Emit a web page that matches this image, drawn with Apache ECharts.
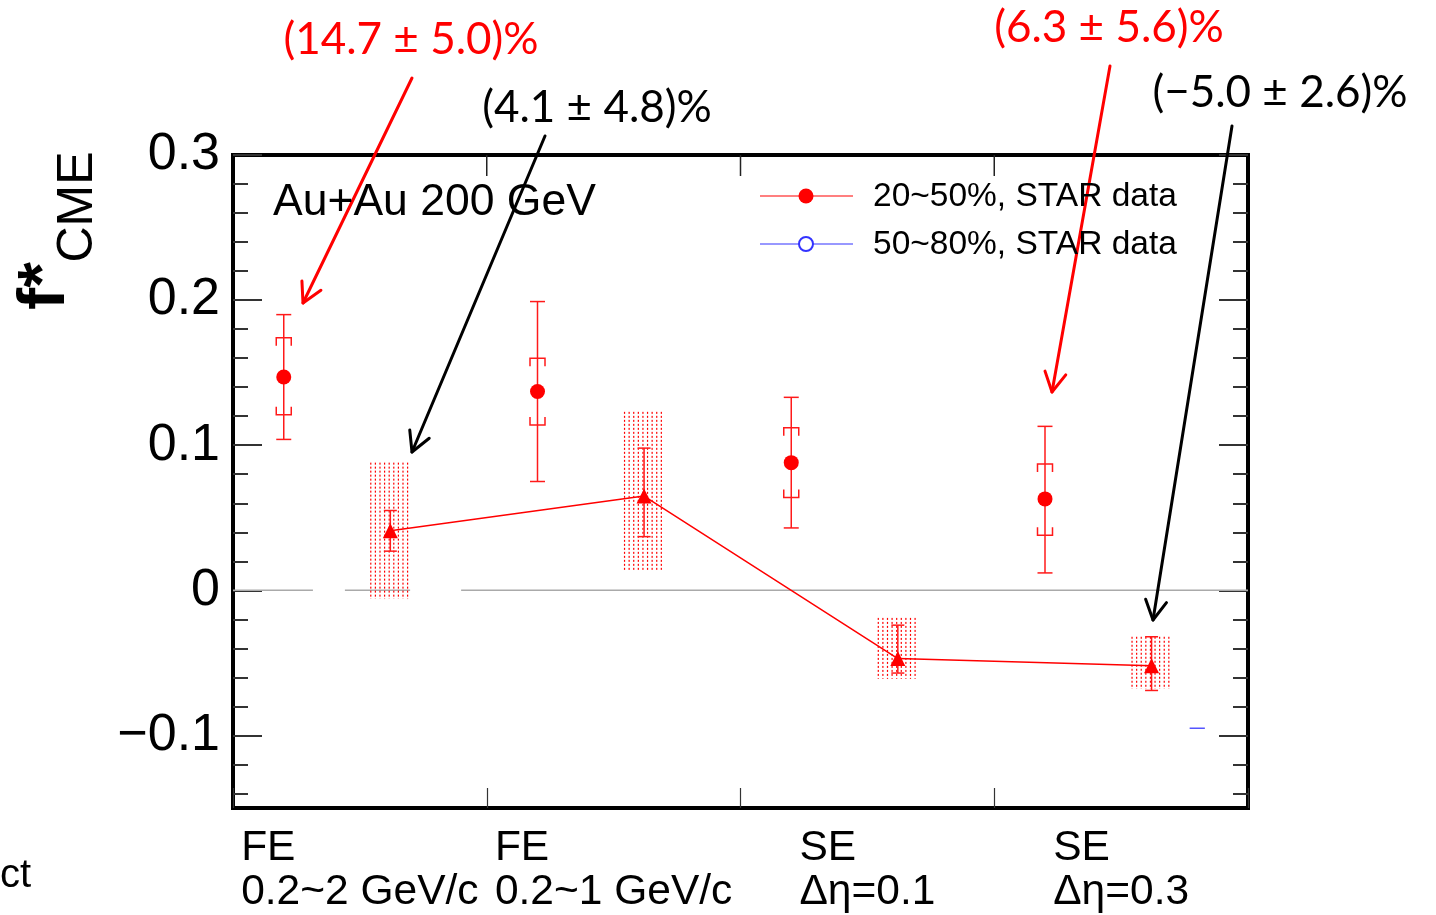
<!DOCTYPE html>
<html><head><meta charset="utf-8">
<script src="https://cdn.jsdelivr.net/npm/echarts@6/dist/echarts.min.js"></script>
<style>html,body{margin:0;padding:0;background:#fff}#c{width:1436px;height:915px}</style>
</head><body><div id="c"></div>
<script>
// ---------- data ----------
const categories = ['FE\n0.2~2 GeV/c', 'FE\n0.2~1 GeV/c', 'SE\nΔη=0.1', 'SE\nΔη=0.3'];
const yTickValues = [-0.1, 0, 0.1, 0.2, 0.3];
const central2050 = [0.147, 0.137, 0.088, 0.063];
const statLow2050 = [0.104, 0.075, 0.043, 0.012];
const statHigh2050 = [0.190, 0.199, 0.133, 0.113];
const sysLow2050 = [0.121, 0.114, 0.064, 0.038];
const sysHigh2050 = [0.174, 0.160, 0.112, 0.087];
const centralTri = [0.041, 0.065, -0.047, -0.052];
const statLowTri = [0.027, 0.037, -0.057, -0.069];
const statHighTri = [0.055, 0.098, -0.024, -0.032];
const boxLowTri = [-0.006, 0.013, -0.061, -0.068];
const boxHighTri = [0.088, 0.123, -0.019, -0.032];
const blueFragmentX = [3.77, 3.83];
const blueFragmentY = [-0.095, -0.095];
const legendNames = ['20~50%, STAR data', '50~80%, STAR data'];
const annotationTexts = ['(14.7 ± 5.0)%', '(4.1 ± 4.8)%', '(6.3 ± 5.6)%', '(−5.0 ± 2.6)%'];
const systemLabel = 'Au+Au 200 GeV';

// ---------- layout ----------
const FONT = '"Liberation Sans", Arial, sans-serif';
const ANN_FONT = 'Lato, "Open Sans", sans-serif';
const RED = '#ff0000';
const CIRCLE_OFF = 0.2, TRI_OFF = 0.62, BOX_HALF = 0.077;
const W = 1436, H = 915;
const GRID = {left: 233, right: 188, top: 155, bottom: 107};
const Y_MIN = -0.15, Y_MAX = 0.3, X_MIN = 0, X_MAX = 4;

const minorVals = [];
for (let k = -14; k <= 28; k += 2) { if (k % 10 !== 0) minorVals.push(k / 100); }
const boundaryTicks = [1, 2, 3];

const chart = echarts.init(document.getElementById('c'), null, {renderer: 'canvas'});

function fmtY(v) {
  if (Math.abs(v) < 1e-9) return '0';
  return v < 0 ? '\u2212' + (-v).toFixed(1) : v.toFixed(1);
}

const circleErrData = central2050.map((v, i) => [i + CIRCLE_OFF, statLow2050[i], statHigh2050[i], sysLow2050[i], sysHigh2050[i]]);
const triErrData = centralTri.map((v, i) => [i + TRI_OFF, statLowTri[i], statHighTri[i]]);
const boxData = centralTri.map((v, i) => [i + TRI_OFF, boxLowTri[i], boxHighTri[i]]);
const zeroSegs = [[0, 0.315], [0.441, 0.698], [0.899, 4]];

function yAxisTicks(pos, vals, len, showLabel) {
  return {
    type: 'value', min: Y_MIN, max: Y_MAX, position: pos,
    axisLine: {show: false, onZero: false}, splitLine: {show: false},
    axisTick: {show: true, inside: true, length: len, customValues: vals, lineStyle: {color: '#333', width: 2}},
    axisLabel: {show: showLabel, customValues: vals, formatter: fmtY, fontSize: 52, fontFamily: FONT, color: '#000', margin: 13}
  };
}

const sty = {stroke: '#ff1a1a', lineWidth: 1.5, fill: null};

const option = {
  animation: false,
  backgroundColor: '#fff',
  grid: Object.assign({show: true, borderColor: '#000', borderWidth: 4, backgroundColor: 'transparent'}, GRID),
  xAxis: [
    {
      type: 'value', min: X_MIN, max: X_MAX, interval: 1, position: 'bottom',
      axisLine: {show: false, onZero: false}, splitLine: {show: false},
      axisTick: {show: true, inside: true, length: 20, lineStyle: {color: '#333', width: 1.2}},
      axisLabel: {show: false}
    },
    {
      type: 'category', data: categories, position: 'bottom',
      axisLine: {show: false, onZero: false}, axisTick: {show: false}, splitLine: {show: false},
      axisLabel: {
        interval: 0, margin: 18,
        formatter: v => v.split('\n').map(s => '{a|' + s + '}').join('\n'),
        rich: {a: {fontSize: 42.5, lineHeight: 44, fontFamily: FONT, color: '#000', align: 'left'}}
      }
    }
  ],
  yAxis: [
    yAxisTicks('left', yTickValues, 29, true),
    yAxisTicks('left', minorVals, 15, false),
    yAxisTicks('right', yTickValues, 29, false),
    yAxisTicks('right', minorVals, 15, false)
  ],
  series: [
    { // zero reference line
      type: 'custom', xAxisIndex: 0, yAxisIndex: 0, silent: true, z: 1,
      data: zeroSegs,
      renderItem: (p, api) => {
        const a = api.coord([api.value(0), 0]), b = api.coord([api.value(1), 0]);
        return {type: 'line', shape: {x1: a[0], y1: a[1], x2: b[0], y2: b[1]}, style: {stroke: '#aaaaaa', lineWidth: 1.5}};
      }
    },
    { // hatched systematic boxes
      type: 'custom', xAxisIndex: 0, yAxisIndex: 0, silent: true, z: 2,
      data: boxData,
      renderItem: (p, api) => {
        const x = api.value(0);
        const tl = api.coord([x - BOX_HALF, api.value(2)]);
        const br = api.coord([x + BOX_HALF, api.value(1)]);
        const children = [];
        for (let xx = tl[0]; xx <= br[0] + 0.1; xx += 4.6) {
          children.push({type: 'line', shape: {x1: xx, y1: tl[1], x2: xx, y2: br[1]},
            style: {stroke: RED, lineWidth: 1.2, lineDash: [2, 2]}});
        }
        return {type: 'group', children};
      }
    },
    { // stat errors on triangles
      type: 'custom', xAxisIndex: 0, yAxisIndex: 0, silent: true, z: 3,
      data: triErrData,
      renderItem: (p, api) => {
        const x = api.value(0);
        const lo = api.coord([x, api.value(1)]), hi = api.coord([x, api.value(2)]);
        const c = 6.5, cx = lo[0];
        return {type: 'group', children: [
          {type: 'line', shape: {x1: cx, y1: lo[1], x2: cx, y2: hi[1]}, style: sty},
          {type: 'line', shape: {x1: cx - c, y1: lo[1], x2: cx + c, y2: lo[1]}, style: sty},
          {type: 'line', shape: {x1: cx - c, y1: hi[1], x2: cx + c, y2: hi[1]}, style: sty}
        ]};
      }
    },
    { // stat + sys errors on circles
      type: 'custom', xAxisIndex: 0, yAxisIndex: 0, silent: true, z: 3,
      data: circleErrData,
      renderItem: (p, api) => {
        const x = api.value(0);
        const lo = api.coord([x, api.value(1)]), hi = api.coord([x, api.value(2)]);
        const sLo = api.coord([x, api.value(3)]), sHi = api.coord([x, api.value(4)]);
        const c = 7.5, cx = lo[0], t = 8;
        return {type: 'group', children: [
          {type: 'line', shape: {x1: cx, y1: lo[1], x2: cx, y2: hi[1]}, style: sty},
          {type: 'line', shape: {x1: cx - c, y1: lo[1], x2: cx + c, y2: lo[1]}, style: sty},
          {type: 'line', shape: {x1: cx - c, y1: hi[1], x2: cx + c, y2: hi[1]}, style: sty},
          {type: 'polyline', shape: {points: [[cx - c, sHi[1] + t], [cx - c, sHi[1]], [cx + c, sHi[1]], [cx + c, sHi[1] + t]]}, style: sty},
          {type: 'polyline', shape: {points: [[cx - c, sLo[1] - t], [cx - c, sLo[1]], [cx + c, sLo[1]], [cx + c, sLo[1] - t]]}, style: sty}
        ]};
      }
    },
    {
      type: 'line', name: 'tri', xAxisIndex: 0, yAxisIndex: 0, z: 4,
      data: centralTri.map((v, i) => [i + TRI_OFF, v]),
      symbol: 'triangle', symbolSize: 15, showSymbol: true,
      itemStyle: {color: RED, opacity: 1}, lineStyle: {color: RED, width: 1.5}
    },
    {
      type: 'scatter', name: legendNames[0], xAxisIndex: 0, yAxisIndex: 0, z: 5,
      data: central2050.map((v, i) => [i + CIRCLE_OFF, v]),
      symbol: 'circle', symbolSize: 15, itemStyle: {color: RED, opacity: 1}
    },
    {
      type: 'line', name: legendNames[1], xAxisIndex: 0, yAxisIndex: 0, z: 4,
      data: blueFragmentX.map((x, i) => [x, blueFragmentY[i]]),
      symbol: 'none', lineStyle: {color: '#5555ff', width: 1.5}
    }
  ]
};
chart.setOption(option);

// ---------- annotations / legend / titles ----------
function arrow(x1, y1, x2, y2, color) {
  const ang = Math.atan2(y2 - y1, x2 - x1);
  const L = 22, a = 0.5;
  const p1 = [x2 - L * Math.cos(ang - a), y2 - L * Math.sin(ang - a)];
  const p2 = [x2 - L * Math.cos(ang + a), y2 - L * Math.sin(ang + a)];
  const st = {stroke: color, lineWidth: 3, lineCap: 'round', lineJoin: 'round', fill: null};
  return [
    {type: 'line', shape: {x1, y1, x2, y2}, style: st, z: 100},
    {type: 'polyline', shape: {points: [p1, [x2, y2], p2]}, style: st, z: 100}
  ];
}
function txt(text, x, y, size, color, family, extra) {
  return Object.assign({type: 'text', x, y, z: 100,
    style: Object.assign({text, fontSize: size, fontFamily: family, fill: color, align: 'center', verticalAlign: 'middle'}, extra || {})});
}

const g = [];
// top-frame ticks at category boundaries
const plotW = W - GRID.left - GRID.right;
boundaryTicks.forEach(v => {
  let p = null;
  try { p = chart.convertToPixel({gridIndex: 0}, [v, Y_MAX]); } catch (e) { p = null; }
  if (!p || !isFinite(p[0]) || !isFinite(p[1])) {
    p = [GRID.left + (v - X_MIN) / (X_MAX - X_MIN) * plotW, GRID.top];
  }
  g.push({type: 'line', shape: {x1: p[0], y1: p[1], x2: p[0], y2: p[1] + 21}, style: {stroke: '#222', lineWidth: 1.5}, z: 60, zlevel: 0});
});
g.push(...arrow(412, 78, 303, 303, RED));
g.push(...arrow(545, 136, 412, 452, '#000'));
g.push(...arrow(1110, 66, 1052, 392, RED));
g.push(...arrow(1232, 126, 1153, 620, '#000'));
g.push(txt(annotationTexts[0], 411, 40, 44, RED, ANN_FONT));
g.push(txt(annotationTexts[1], 597, 108, 44, '#000', ANN_FONT));
g.push(txt(annotationTexts[2], 1109, 28, 44, RED, ANN_FONT));
g.push(txt(annotationTexts[3], 1280, 93, 44, '#000', ANN_FONT));
g.push(txt(systemLabel, 273, 203, 44.5, '#000', FONT, {align: 'left'}));
// legend
g.push({type: 'line', shape: {x1: 760, y1: 196, x2: 853, y2: 196}, style: {stroke: RED, lineWidth: 1.2}, z: 50});
g.push({type: 'circle', shape: {cx: 806, cy: 196, r: 7.5}, style: {fill: RED}, z: 51});
g.push(txt(legendNames[0], 873, 197, 33.5, '#000', FONT, {align: 'left'}));
g.push({type: 'line', shape: {x1: 760, y1: 244, x2: 853, y2: 244}, style: {stroke: '#3333ff', lineWidth: 1.2}, z: 50});
g.push({type: 'circle', shape: {cx: 806, cy: 244, r: 7}, style: {fill: '#fff', stroke: '#3333ff', lineWidth: 2}, z: 51});
g.push(txt(legendNames[1], 873, 245, 33.5, '#000', FONT, {align: 'left'}));
// y-axis title
g.push(txt('CME', 78, 207, 50, '#000', FONT, {}));
g[g.length - 1].rotation = Math.PI / 2;
g.push(txt('f*', 46, 286, 66, '#000', FONT, {fontWeight: 'bold'}));
g[g.length - 1].rotation = Math.PI / 2;
// clipped text at bottom-left
g.push(txt('ct', 0, 876, 40, '#000', FONT, {align: 'left'}));

chart.setOption({graphic: {elements: g}});
</script></body></html>
